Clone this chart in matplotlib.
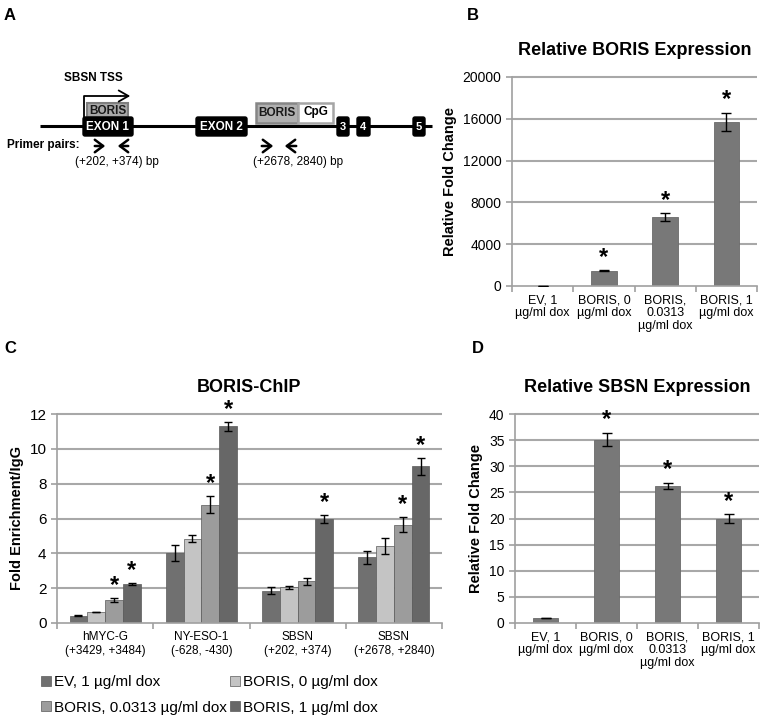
import numpy as np
import matplotlib
matplotlib.use("Agg")
import matplotlib.pyplot as plt
from matplotlib.patches import Rectangle, FancyBboxPatch

plt.rcParams["font.family"] = ["Liberation Sans", "DejaVu Sans"]

# ---- data ----
EXPR_CATS = ["EV, 1\nµg/ml dox", "BORIS, 0\nµg/ml dox", "BORIS,\n0.0313\nµg/ml dox", "BORIS, 1\nµg/ml dox"]
BORIS_EXPR = [1, 1450, 6600, 15700]
BORIS_ERR = [0, 50, 350, 850]
BORIS_STAR = [False, True, True, True]
SBSN_EXPR = [1.0, 35.1, 26.2, 20.0]
SBSN_ERR = [0, 1.3, 0.6, 0.8]
SBSN_STAR = [False, True, True, True]

CHIP_SITES = ["hMYC-G\n(+3429, +3484)", "NY-ESO-1\n(-628, -430)", "SBSN\n(+202, +374)", "SBSN\n(+2678, +2840)"]
CHIP_SERIES = ["EV, 1 µg/ml dox", "BORIS, 0 µg/ml dox", "BORIS, 0.0313 µg/ml dox", "BORIS, 1 µg/ml dox"]
CHIP_EV = [0.42, 4.0, 1.85, 3.78]
CHIP_B0 = [0.63, 4.83, 2.05, 4.43]
CHIP_B03 = [1.33, 6.8, 2.4, 5.65]
CHIP_B1 = [2.24, 11.3, 5.97, 9.0]
CHIP_EV_ERR = [0.03, 0.45, 0.2, 0.38]
CHIP_B0_ERR = [0.02, 0.2, 0.1, 0.45]
CHIP_B03_ERR = [0.1, 0.5, 0.2, 0.45]
CHIP_B1_ERR = [0.05, 0.25, 0.22, 0.48]
CHIP_STAR = [[False, False, True, True], [False, False, True, True],
             [False, False, False, True], [False, False, True, True]]

CHIP_COLORS = ["#707070", "#c4c4c4", "#9c9c9c", "#676767"]
BAR_GREY = "#787878"
GRID = "#a8a8a8"
SPINE = "#a0a0a0"


def style_axes(ax, ymax, step, tick_fs, ncat):
    ax.set_xlim(-0.5, ncat - 0.5)
    ax.set_ylim(0, ymax)
    ax.set_yticks(np.arange(0, ymax + step / 2, step))
    for sp in ("top", "right"):
        ax.spines[sp].set_visible(False)
    for sp in ("left", "bottom"):
        ax.spines[sp].set_color(SPINE)
        ax.spines[sp].set_linewidth(1.2)
    ax.tick_params(axis="y", colors=SPINE, labelcolor="black", labelsize=tick_fs, length=4, width=1.2)
    ax.tick_params(axis="x", which="major", length=0, pad=6)
    ax.tick_params(axis="x", which="minor", colors=SPINE, length=4, width=1.2)
    # gridlines drawn explicitly, behind the bars
    ax.hlines(np.arange(step, ymax + step / 2, step), -0.5, ncat - 0.5,
              colors=GRID, linewidth=1.5, zorder=1, clip_on=False)


def expression_panel(ax, vals, errs, stars, ymax, step, title, star_gap):
    x = np.arange(len(vals))
    ax.bar(x, vals, width=0.42, color=BAR_GREY, edgecolor="#6a6a6a", lw=0.6, zorder=2)
    ax.errorbar(x, vals, yerr=errs, fmt="none", ecolor="black", elinewidth=1, capsize=3.5, zorder=3)
    for xi, v, e, s in zip(x, vals, errs, stars):
        if s:
            ax.text(xi, v + e + star_gap, "*", ha="center", va="bottom", fontsize=17, fontweight="bold")
    style_axes(ax, ymax, step, 10, len(vals))
    ax.set_xticks(x)
    ax.set_xticklabels(EXPR_CATS, fontsize=9, linespacing=1.1, va="top")
    ax.set_xticks(np.arange(-0.5, len(vals)), minor=True)
    ax.set_ylabel("Relative Fold Change", fontsize=10.5, fontweight="bold", labelpad=4)
    ax.set_title(title, fontsize=13, fontweight="bold", pad=16)


fig = plt.figure(figsize=(7.64, 7.2), dpi=100)

# ---- panel A: gene diagram (pixel coordinates) ----
axA = fig.add_axes([0, 1 - 200 / 720, 440 / 764, 200 / 720])
axA.set_xlim(0, 440)
axA.set_ylim(200, 0)
axA.axis("off")
axA.plot([40, 432], [126, 126], color="black", lw=2.2, solid_capstyle="butt", zorder=1)


def exon(x0, x1, label, fs=8.5):
    axA.add_patch(FancyBboxPatch((x0, 117), x1 - x0, 19, boxstyle="round,pad=0,rounding_size=2",
                                 fc="black", ec="black", zorder=3))
    axA.text((x0 + x1) / 2, 127, label, color="white", fontsize=fs, fontweight="bold",
             ha="center", va="center", zorder=4)


axA.add_patch(Rectangle((87, 103), 41, 14, fc="#a9a9a9", ec="#7f7f7f", lw=1.5, zorder=2))
axA.text(107.5, 110.5, "BORIS", fontsize=8.5, fontweight="bold", ha="center", va="center", color="#1a1a1a", zorder=4)
exon(83, 133, "EXON 1")
exon(196, 247, "EXON 2")
exon(337, 349, "3", 8)
exon(357, 370, "4", 8)
exon(413, 425, "5", 8)
axA.add_patch(Rectangle((256, 103), 42, 20, fc="#b0b0b0", ec="#868686", lw=1.8, zorder=2))
axA.text(277, 113.5, "BORIS", fontsize=8.5, fontweight="bold", ha="center", va="center", color="#1a1a1a", zorder=4)
axA.add_patch(Rectangle((298, 103), 35, 20, fc="white", ec="#a5a5a5", lw=1.8, zorder=2))
axA.text(315.5, 112, "CpG", fontsize=8.5, fontweight="bold", ha="center", va="center", zorder=4)

# TSS arrow
axA.plot([84, 84, 120], [117, 96, 96], color="black", lw=1.3, zorder=3)
axA.annotate("", xy=(133, 96), xytext=(118, 96),
             arrowprops=dict(arrowstyle="->,head_length=0.7,head_width=0.4", lw=1.3, color="black"))
axA.text(93, 78, "SBSN TSS", fontsize=8.5, fontweight="bold", ha="center", va="center")

axA.text(7, 145, "Primer pairs:", fontsize=8.5, fontweight="bold", ha="left", va="center")
for x0, x1 in [(92, 108), (131, 115), (259, 276), (299, 282)]:
    axA.annotate("", xy=(x1, 146), xytext=(x0, 146),
                 arrowprops=dict(arrowstyle="->,head_length=0.6,head_width=0.45", lw=1.8, color="black"))
axA.text(117, 162, "(+202, +374) bp", fontsize=8.5, ha="center", va="center")
axA.text(298, 162, "(+2678, 2840) bp", fontsize=8.5, ha="center", va="center")

# ---- panel B ----
axB = fig.add_axes([512 / 764, 1 - 286 / 720, 245 / 764, 209 / 720])
expression_panel(axB, BORIS_EXPR, BORIS_ERR, BORIS_STAR, 20000, 4000,
                 "Relative BORIS Expression", 150)

# ---- panel D ----
axD = fig.add_axes([515 / 764, 1 - 623 / 720, 244 / 764, 209 / 720])
expression_panel(axD, SBSN_EXPR, SBSN_ERR, SBSN_STAR, 40, 5,
                 "Relative SBSN Expression", 0.3)

# ---- panel C ----
axC = fig.add_axes([57 / 764, 1 - 623 / 720, 385 / 764, 209 / 720])
series = [CHIP_EV, CHIP_B0, CHIP_B03, CHIP_B1]
errs = [CHIP_EV_ERR, CHIP_B0_ERR, CHIP_B03_ERR, CHIP_B1_ERR]
x = np.arange(len(CHIP_SITES))
w = 0.185
handles = []
for k, (vals, err, name, col) in enumerate(zip(series, errs, CHIP_SERIES, CHIP_COLORS)):
    xs = x + (k - 1.5) * w
    h = axC.bar(xs, vals, width=w, color=col, edgecolor="#5a5a5a", lw=0.5, label=name, zorder=2)
    handles.append(h)
    axC.errorbar(xs, vals, yerr=err, fmt="none", ecolor="black", elinewidth=1, capsize=3, zorder=3)
    for i in range(len(x)):
        if CHIP_STAR[i][k]:
            axC.text(xs[i], vals[i] + err[i] + 0.05, "*", ha="center", va="bottom",
                     fontsize=17, fontweight="bold")
style_axes(axC, 12, 2, 11, len(x))
axC.set_xticks(x)
axC.set_xticklabels(CHIP_SITES, fontsize=8.5, linespacing=1.15)
axC.set_xticks(np.arange(-0.5, len(x)), minor=True)
axC.set_ylabel("Fold Enrichment/IgG", fontsize=10.5, fontweight="bold", labelpad=4)
axC.set_title("BORIS-ChIP", fontsize=13, fontweight="bold", pad=16)
# legend reads row-wise in the reference, matplotlib fills by column
order = [0, 2, 1, 3]
axC.legend([handles[i] for i in order], [CHIP_SERIES[i] for i in order],
           loc="upper left", bbox_to_anchor=(-0.057, -0.22), ncol=2, frameon=False,
           fontsize=11, handlelength=0.65, handleheight=0.65, handletextpad=0.2,
           columnspacing=0.2, labelspacing=0.75, borderaxespad=0)

# panel letters
for lbl, xp, yp in [("A", 10, 15), ("B", 473, 15), ("C", 10, 348), ("D", 478, 348)]:
    fig.text(xp / 764, 1 - yp / 720, lbl, fontsize=12, fontweight="bold", ha="center", va="center")

fig.savefig("out.png", dpi=100, facecolor="white")
